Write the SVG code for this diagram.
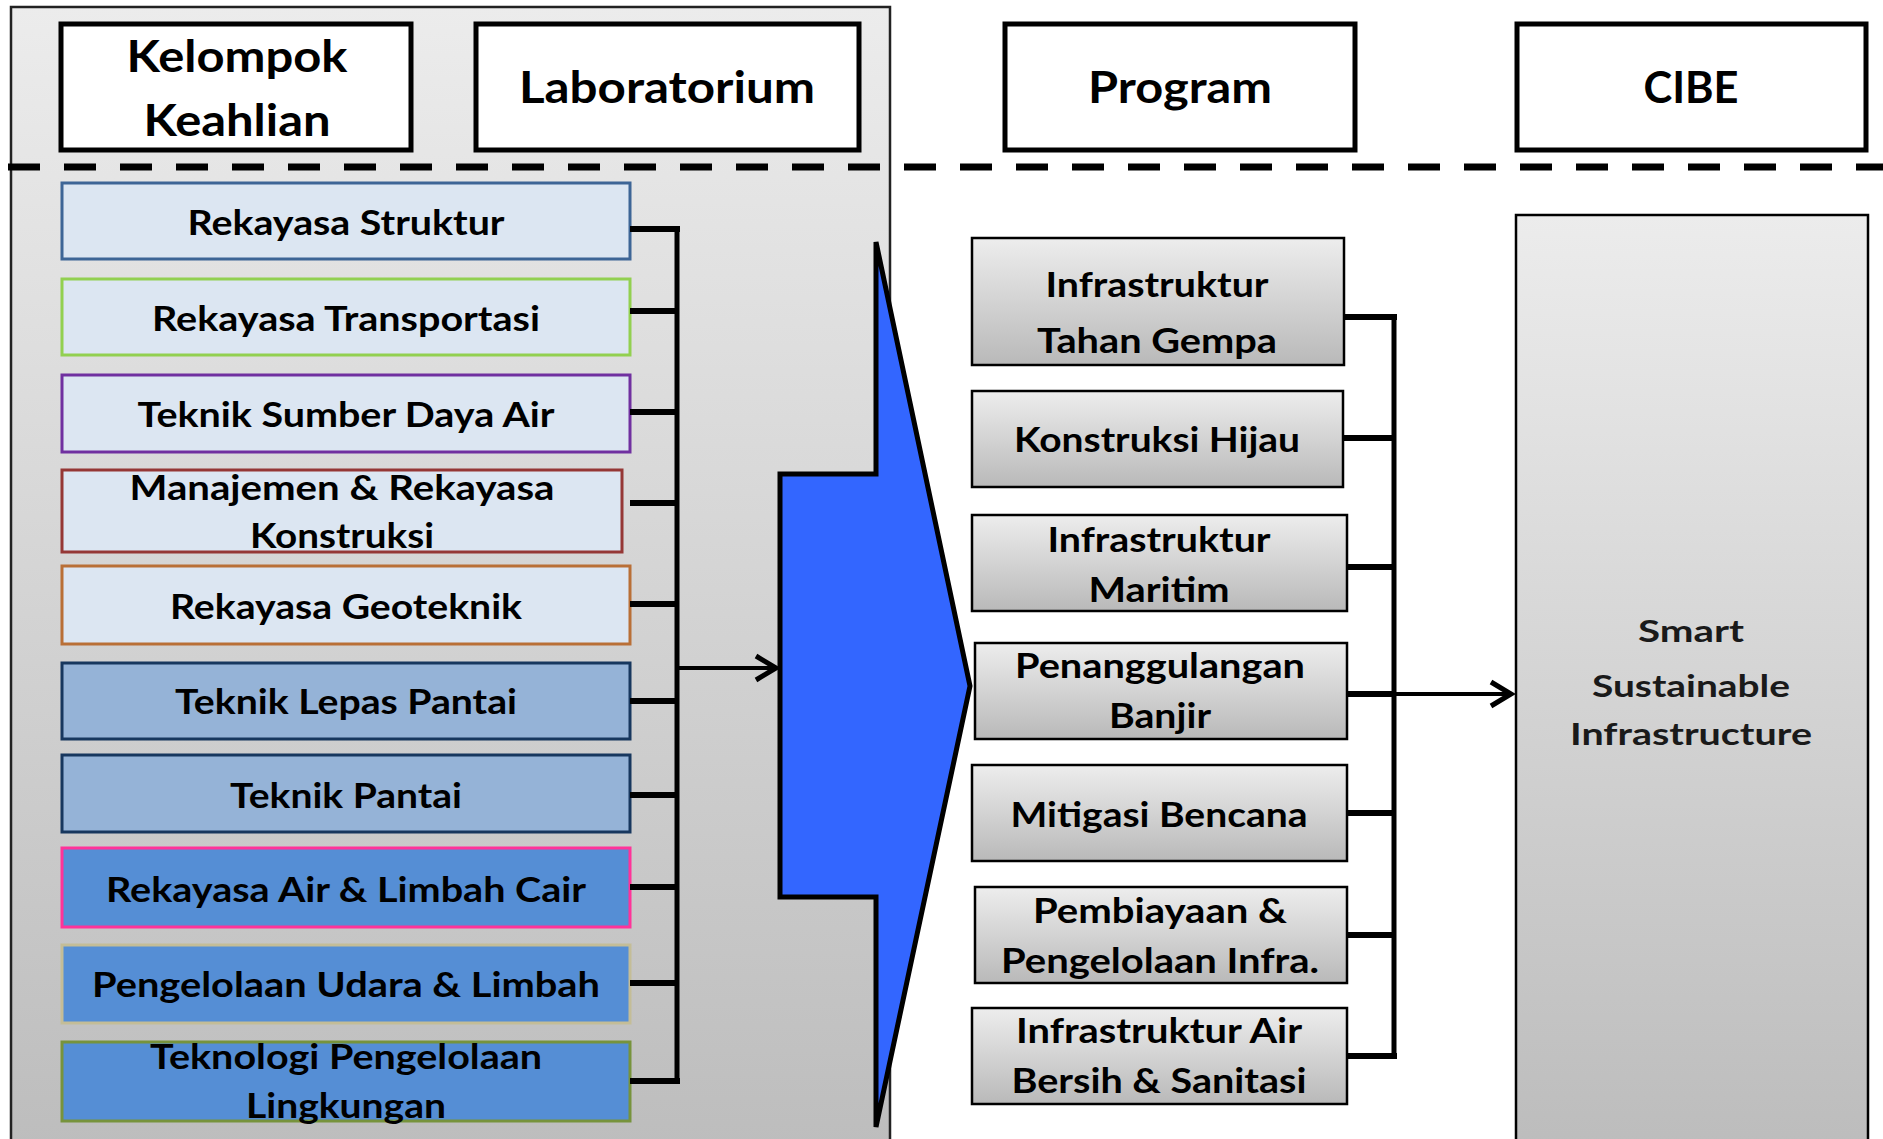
<svg xmlns="http://www.w3.org/2000/svg" width="1883" height="1139" viewBox="0 0 1883 1139">
<defs>
<linearGradient id="gPanel" x1="0" y1="0" x2="0" y2="1">
<stop offset="0" stop-color="#ececec"/>
<stop offset="1" stop-color="#bdbdbd"/>
</linearGradient>
<linearGradient id="gCibe" x1="0" y1="0" x2="0" y2="1">
<stop offset="0" stop-color="#ececec"/>
<stop offset="1" stop-color="#bcbcbc"/>
</linearGradient>
<linearGradient id="gProg" x1="0" y1="0" x2="0" y2="1">
<stop offset="0" stop-color="#ededed"/>
<stop offset="1" stop-color="#b9b9b9"/>
</linearGradient>
<marker id="chev" markerUnits="userSpaceOnUse" markerWidth="30" markerHeight="30" viewBox="-24 -15 30 30" refX="0" refY="0" orient="auto">
<polyline points="-20,-12 0,0 -20,12" fill="none" stroke="#000" stroke-width="5"/>
</marker>
<style>
text{font-family:Lato,"Open Sans","Liberation Sans",sans-serif;font-weight:bold;fill:#000;text-anchor:middle}
.hdr rect{fill:#fff;stroke:#000;stroke-width:5}
.hdr text{font-size:44px}
.lab text{font-size:34px}
.lab rect{stroke-width:3}
.lt{fill:#dce6f2}
.md{fill:#95b3d7;stroke:#17375e}
.dk{fill:#558ed5}
.prog rect{fill:url(#gProg);stroke:#000;stroke-width:2.5}
.prog text{font-size:35px}
.cb{font-size:30px;fill:#1a1a1a}
.conn line{stroke:#000;fill:none}
.tick{stroke-width:6}
</style>
</defs>

<rect id="panel" x="11" y="7" width="879" height="1140" fill="url(#gPanel)" stroke="#222" stroke-width="2.5"/>
<line x1="8" y1="167" x2="1883" y2="167" stroke="#000" stroke-width="7" stroke-dasharray="32 24"/>

<g id="hdr-kelompok" class="hdr"><rect x="61" y="24" width="350" height="126"/><text x="237" y="72" textLength="221" lengthAdjust="spacingAndGlyphs">Kelompok</text><text x="237" y="136" textLength="187" lengthAdjust="spacingAndGlyphs">Keahlian</text></g>
<g id="hdr-lab" class="hdr"><rect x="476" y="24" width="383" height="126"/><text x="667" y="103" textLength="296" lengthAdjust="spacingAndGlyphs">Laboratorium</text></g>
<g id="hdr-program" class="hdr"><rect x="1005" y="24" width="350" height="126"/><text x="1180" y="103" textLength="184" lengthAdjust="spacingAndGlyphs">Program</text></g>
<g id="hdr-cibe" class="hdr"><rect x="1517" y="24" width="349" height="126"/><text x="1691" y="103" textLength="95" lengthAdjust="spacingAndGlyphs">CIBE</text></g>

<g id="lab1" class="lab"><rect class="lt" x="62" y="183" width="568" height="76" stroke="#3d6596"/><text x="346" y="235" textLength="317" lengthAdjust="spacingAndGlyphs">Rekayasa Struktur</text></g>
<g id="lab2" class="lab"><rect class="lt" x="62" y="279" width="568" height="76" stroke="#92d050"/><text x="346" y="331" textLength="388" lengthAdjust="spacingAndGlyphs">Rekayasa Transportasi</text></g>
<g id="lab3" class="lab"><rect class="lt" x="62" y="375" width="568" height="77" stroke="#7030a0"/><text x="346" y="427" textLength="417" lengthAdjust="spacingAndGlyphs">Teknik Sumber Daya Air</text></g>
<g id="lab4" class="lab"><rect class="lt" x="62" y="470" width="560" height="82" stroke="#953735"/><text x="342" y="500" textLength="425" lengthAdjust="spacingAndGlyphs">Manajemen &amp; Rekayasa</text><text x="342" y="548" textLength="184" lengthAdjust="spacingAndGlyphs">Konstruksi</text></g>
<g id="lab5" class="lab"><rect class="lt" x="62" y="566" width="568" height="78" stroke="#b96f36"/><text x="346" y="619" textLength="352" lengthAdjust="spacingAndGlyphs">Rekayasa Geoteknik</text></g>
<g id="lab6" class="lab"><rect class="md" x="62" y="663" width="568" height="76"/><text x="346" y="714" textLength="342" lengthAdjust="spacingAndGlyphs">Teknik Lepas Pantai</text></g>
<g id="lab7" class="lab"><rect class="md" x="62" y="755" width="568" height="77"/><text x="346" y="808" textLength="232" lengthAdjust="spacingAndGlyphs">Teknik Pantai</text></g>
<g id="lab8" class="lab"><rect class="dk" x="62" y="848" width="568" height="79" stroke="#ff3399"/><text x="346" y="902" textLength="480" lengthAdjust="spacingAndGlyphs">Rekayasa Air &amp; Limbah Cair</text></g>
<g id="lab9" class="lab"><rect class="dk" x="62" y="945" width="568" height="78" stroke="#c4bd97"/><text x="346" y="997" textLength="508" lengthAdjust="spacingAndGlyphs">Pengelolaan Udara &amp; Limbah</text></g>
<g id="lab10" class="lab"><rect class="dk" x="62" y="1042" width="568" height="79" stroke="#77933c"/><text x="346" y="1069" textLength="392" lengthAdjust="spacingAndGlyphs">Teknologi Pengelolaan</text><text x="346" y="1118" textLength="200" lengthAdjust="spacingAndGlyphs">Lingkungan</text></g>

<g id="big-arrow"><polygon points="876,242 970,686 876,1127 876,897 780,897 780,474 876,474" fill="#3366ff" stroke="#000" stroke-width="5" stroke-linejoin="miter"/></g>

<g id="prog1" class="prog"><rect x="972" y="238" width="372" height="127"/><text x="1157" y="297" textLength="223" lengthAdjust="spacingAndGlyphs">Infrastruktur</text><text x="1157" y="353" textLength="240" lengthAdjust="spacingAndGlyphs">Tahan Gempa</text></g>
<g id="prog2" class="prog"><rect x="972" y="391" width="371" height="96"/><text x="1157" y="452" textLength="286" lengthAdjust="spacingAndGlyphs">Konstruksi Hijau</text></g>
<g id="prog3" class="prog"><rect x="972" y="515" width="375" height="96"/><text x="1159" y="552" textLength="223" lengthAdjust="spacingAndGlyphs">Infrastruktur</text><text x="1159" y="602" textLength="141" lengthAdjust="spacingAndGlyphs">Maritim</text></g>
<g id="prog4" class="prog"><rect x="975" y="643" width="372" height="96"/><text x="1160" y="678" textLength="290" lengthAdjust="spacingAndGlyphs">Penanggulangan</text><text x="1160" y="728" textLength="102" lengthAdjust="spacingAndGlyphs">Banjir</text></g>
<g id="prog5" class="prog"><rect x="972" y="765" width="375" height="96"/><text x="1159" y="827" textLength="297" lengthAdjust="spacingAndGlyphs">Mitigasi Bencana</text></g>
<g id="prog6" class="prog"><rect x="975" y="887" width="372" height="96"/><text x="1160" y="923" textLength="254" lengthAdjust="spacingAndGlyphs">Pembiayaan &amp;</text><text x="1160" y="973" textLength="318" lengthAdjust="spacingAndGlyphs">Pengelolaan Infra.</text></g>
<g id="prog7" class="prog"><rect x="972" y="1008" width="375" height="96"/><text x="1159" y="1043" textLength="286" lengthAdjust="spacingAndGlyphs">Infrastruktur Air</text><text x="1159" y="1093" textLength="295" lengthAdjust="spacingAndGlyphs">Bersih &amp; Sanitasi</text></g>

<g id="cibe"><rect x="1516" y="215" width="352" height="940" fill="url(#gCibe)" stroke="#000" stroke-width="2.5"/><text class="cb" x="1691" y="642" textLength="106" lengthAdjust="spacingAndGlyphs">Smart</text><text class="cb" x="1691" y="697" textLength="198" lengthAdjust="spacingAndGlyphs">Sustainable</text><text class="cb" x="1691" y="745" textLength="242" lengthAdjust="spacingAndGlyphs">Infrastructure</text></g>

<g id="connectors" class="conn">
<line x1="677" y1="226" x2="677" y2="1084" stroke-width="5"/>
<line class="tick" x1="630" y1="229" x2="680" y2="229"/>
<line class="tick" x1="630" y1="311" x2="677" y2="311"/>
<line class="tick" x1="630" y1="412" x2="677" y2="412"/>
<line class="tick" x1="630" y1="503" x2="677" y2="503"/>
<line class="tick" x1="630" y1="604" x2="677" y2="604"/>
<line class="tick" x1="630" y1="701" x2="677" y2="701"/>
<line class="tick" x1="630" y1="795" x2="677" y2="795"/>
<line class="tick" x1="630" y1="887" x2="677" y2="887"/>
<line class="tick" x1="630" y1="983" x2="677" y2="983"/>
<line class="tick" x1="630" y1="1081" x2="680" y2="1081"/>
<line x1="677" y1="668" x2="776" y2="668" stroke-width="4" marker-end="url(#chev)"/>
<line x1="1394" y1="314" x2="1394" y2="1059" stroke-width="5"/>
<line class="tick" x1="1344" y1="317" x2="1397" y2="317"/>
<line class="tick" x1="1343" y1="438" x2="1394" y2="438"/>
<line class="tick" x1="1347" y1="567" x2="1394" y2="567"/>
<line class="tick" x1="1347" y1="694" x2="1394" y2="694"/>
<line class="tick" x1="1347" y1="813" x2="1394" y2="813"/>
<line class="tick" x1="1347" y1="935" x2="1394" y2="935"/>
<line class="tick" x1="1347" y1="1056" x2="1397" y2="1056"/>
<line x1="1394" y1="694" x2="1511" y2="694" stroke-width="4" marker-end="url(#chev)"/>
</g>
</svg>
